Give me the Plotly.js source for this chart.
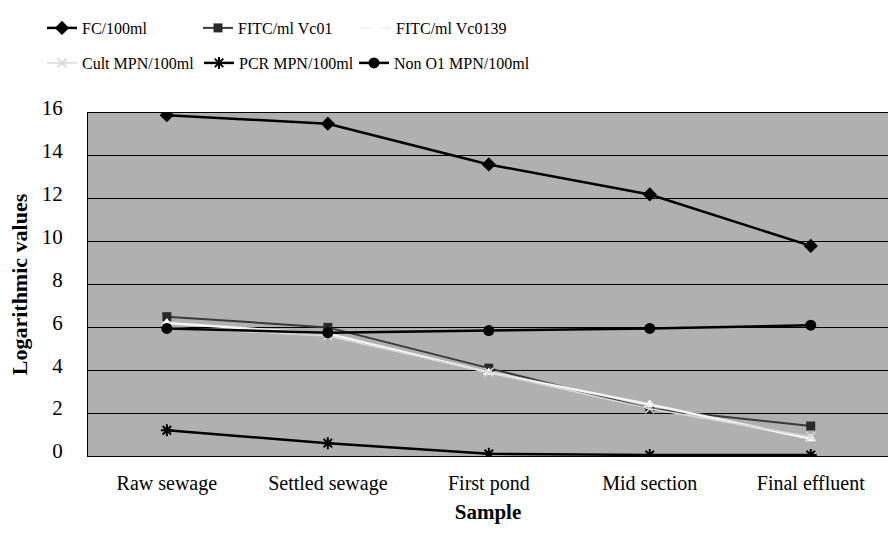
<!DOCTYPE html>
<html>
<head>
<meta charset="utf-8">
<script src="https://cdn.plot.ly/plotly-3.0.1.min.js"></script>
<style>html,body{margin:0;padding:0;background:#fff;}#chart{width:888px;height:548px;}</style>
</head>
<body>
<div id="chart"></div>
<script>
var samples = ["Raw sewage", "Settled sewage", "First pond", "Mid section", "Final effluent"];
var fc = [15.9, 15.5, 13.6, 12.2, 9.8];
var fitcVc01 = [6.5, 6.0, 4.1, 2.2, 1.4];
var fitcVc0139 = [6.2, 5.7, 3.9, 2.4, 0.8];
var cultMpn = [6.0, 5.6, 3.9, 2.2, 0.9];
var pcrMpn = [1.2, 0.6, 0.1, 0.05, 0.05];
var nonO1Mpn = [5.95, 5.75, 5.85, 5.95, 6.1];
var yTicks = [0, 2, 4, 6, 8, 10, 12, 14, 16];

var serif = "'Liberation Serif', 'Times New Roman', Times, serif";

function tr(name, y, color, width, symbol, msize, mcolor, legend, mline) {
  return {
    type: "scatter", mode: "lines+markers", name: name, x: samples, y: y,
    line: {color: color, width: width},
    marker: {symbol: symbol, size: msize, color: mcolor, line: mline || {width: 0}},
    legend: legend
  };
}

var data = [
  tr("FC/100ml", fc, "#000000", 2.5, "diamond", 11, "#000000", "legend"),
  tr("FITC/ml Vc01", fitcVc01, "#3a3a3a", 2, "square", 9, "#2a2a2a", "legend2"),
  tr("FITC/ml Vc0139", fitcVc0139, "#f4f4f4", 2.5, "triangle-up", 10, "#ffffff", "legend3"),
  tr("Cult MPN/100ml", cultMpn, "#d8d8d8", 1.5, "x-thin", 9, "#d8d8d8", "legend4", {width: 1.5, color: "#d8d8d8"}),
  tr("PCR MPN/100ml", pcrMpn, "#000000", 2.5, "asterisk", 10, "#000000", "legend5", {width: 2, color: "#000000"}),
  tr("Non O1 MPN/100ml", nonO1Mpn, "#000000", 2.5, "circle", 11, "#000000", "legend6")
];

function leg(xpx, ypx) {
  return {
    orientation: "h", xref: "container", yref: "container",
    xanchor: "left", yanchor: "middle",
    x: xpx / 888, y: 1 - ypx / 548,
    bgcolor: "rgba(0,0,0,0)", borderwidth: 0,
    font: {family: serif, size: 16, color: "#000"},
    itemwidth: 30
  };
}

var layout = {
  width: 888, height: 548,
  margin: {l: 88, r: 0, t: 113, b: 92, autoexpand: false},
  paper_bgcolor: "#ffffff",
  plot_bgcolor: "#b0b0b0",
  font: {family: serif},
  showlegend: true,
  legend: leg(42, 28),
  legend2: leg(198, 28),
  legend3: leg(356, 28),
  legend4: leg(42, 63),
  legend5: leg(199, 63),
  legend6: leg(354, 63),
  xaxis: {
    type: "category", range: [-0.49, 4.48], tickangle: 0,
    showgrid: false, zeroline: false,
    showline: true, linecolor: "#000", linewidth: 1, mirror: true,
    ticks: "", tickfont: {family: serif, size: 20, color: "#000"},
    ticklabelstandoff: 9,
    title: {text: "<b>Sample</b>", font: {family: serif, size: 21, color: "#000"}, standoff: 10}
  },
  yaxis: {
    range: [0, 16], tickvals: yTicks, ticktext: yTicks.map(String),
    showgrid: true, gridcolor: "#000", gridwidth: 1,
    zeroline: false, showline: true, linecolor: "#000", linewidth: 1, mirror: true,
    ticks: "", tickfont: {family: serif, size: 21, color: "#000"},
    ticklabelstandoff: 20, ticklabelshift: -5,
    title: {text: "<b>Logarithmic values</b>", font: {family: serif, size: 22, color: "#000"}, standoff: 8}
  }
};

Plotly.newPlot("chart", data, layout, {displayModeBar: false, staticPlot: true});
</script>
</body>
</html>
